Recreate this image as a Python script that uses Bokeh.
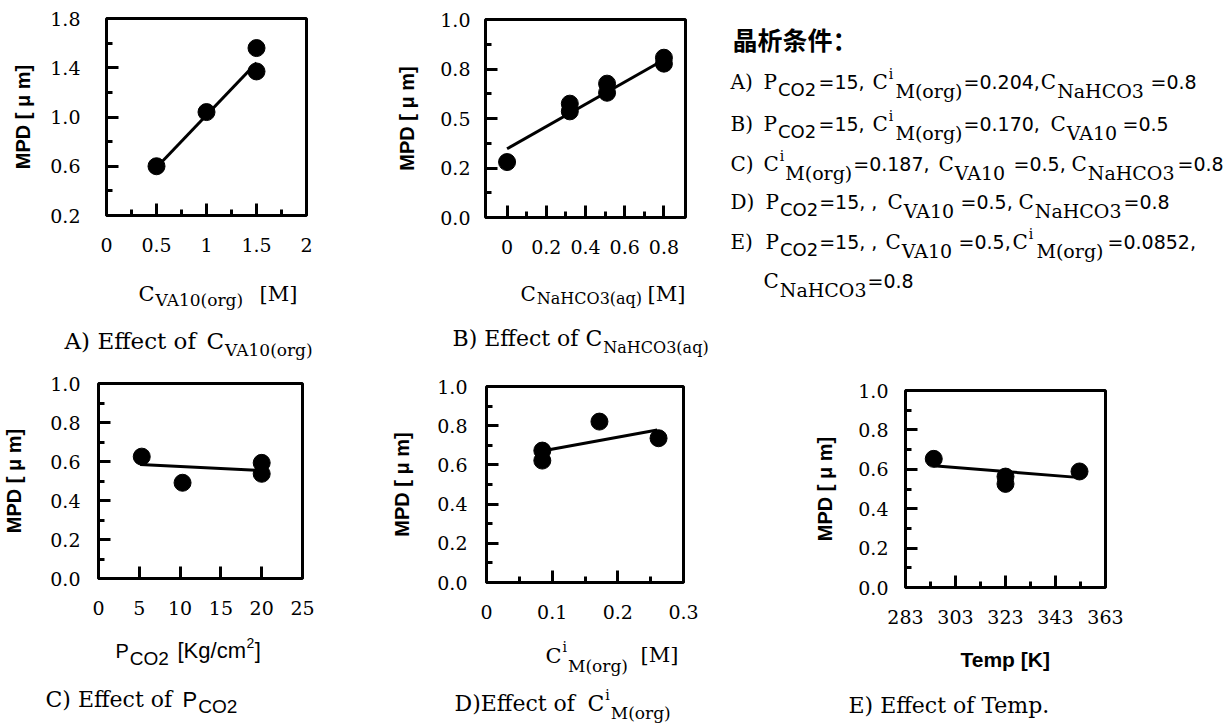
from bokeh.plotting import figure
from bokeh.layouts import row, column
from bokeh.models import Range1d, FixedTicker, Label
from bokeh.embed import file_html
from bokeh.resources import INLINE

# ---------------- data ----------------
a_x = [0.5, 1.0, 1.5, 1.5]
a_y = [0.60, 1.04, 1.37, 1.56]
a_fit_x = [0.5, 1.5]
a_fit_y = [0.59, 1.44]
a_xticks = [0, 0.5, 1, 1.5, 2]
a_xlabels = ["0", "0.5", "1", "1.5", "2"]
a_xminor = [0.25, 0.75, 1.25, 1.75]
a_yticks = [0.2, 0.6, 1.0, 1.4, 1.8]
a_ylabels = ["0.2", "0.6", "1.0", "1.4", "1.8"]
a_yminor = [0.4, 0.8, 1.2, 1.6]

b_x = [0.0, 0.32, 0.32, 0.51, 0.51, 0.8, 0.8]
b_y = [0.28, 0.575, 0.536, 0.676, 0.630, 0.807, 0.777]
b_fit_x = [0.0, 0.8]
b_fit_y = [0.347, 0.797]
b_xticks = [0, 0.2, 0.4, 0.6, 0.8]
b_xlabels = ["0", "0.2", "0.4", "0.6", "0.8"]
b_xminor = [0.1, 0.3, 0.5, 0.7]
b_yticks = [0, 0.25, 0.5, 0.75, 1.0]
b_ylabels = ["0.0", "0.2", "0.5", "0.8", "1.0"]
b_yminor = [0.125, 0.375, 0.625, 0.875]

c_x = [5.3, 10.3, 20, 20]
c_y = [0.625, 0.491, 0.593, 0.537]
c_fit_x = [5.1, 20]
c_fit_y = [0.585, 0.553]
c_xticks = [0, 5, 10, 15, 20, 25]
c_xlabels = ["0", "5", "10", "15", "20", "25"]
c_xminor = []

d_x = [0.085, 0.085, 0.172, 0.262]
d_y = [0.673, 0.622, 0.821, 0.736]
d_fit_x = [0.093, 0.26]
d_fit_y = [0.676, 0.778]
d_xticks = [0, 0.1, 0.2, 0.3]
d_xlabels = ["0", "0.1", "0.2", "0.3"]
d_xminor = [0.05, 0.15, 0.25]

e_x = [294.3, 323, 323, 352.6]
e_y = [0.653, 0.563, 0.526, 0.589]
e_fit_x = [294.2, 351.7]
e_fit_y = [0.618, 0.559]
e_xticks = [283, 303, 323, 343, 363]
e_xlabels = ["283", "303", "323", "343", "363"]
e_xminor = [293, 313, 333, 353]

u_yticks = [0, 0.2, 0.4, 0.6, 0.8, 1.0]
u_ylabels = ["0.0", "0.2", "0.4", "0.6", "0.8", "1.0"]
u_yminor = [0.1, 0.3, 0.5, 0.7, 0.9]

y_title = "MPD [ μ m]"

# ---------------- text helpers ----------------
SERIF = "DejaVu Serif"
SANS = "Liberation Sans"
DSANS = "DejaVu Sans"
CJK = "Noto Sans CJK SC"
BASE_FIX = -7   # baseline correction measured from the rendered page

W_SERIF = {' ': .318, '!': .402, '(': .390, ')': .390, ',': .318, '.': .318, '/': .337,
           ':': .337, '=': .838, '[': .390, ']': .390, 'A': .722, 'B': .735, 'C': .765,
           'D': .802, 'E': .730, 'H': .872, 'K': .770, 'M': 1.024, 'N': .837, 'O': .820,
           'P': .673, 'T': .704, 'V': .722, 'a': .596, 'c': .560, 'e': .592, 'f': .370,
           'g': .640, 'i': .320, 'm': .949, 'o': .602, 'p': .640, 'q': .640, 'r': .478,
           't': .402}
W_SANS = {' ': .278, ',': .278, '.': .278, '=': .584, '[': .278, ']': .278, '/': .278,
          '(': .333, ')': .333, 'C': .722, 'O': .778, 'K': .667, 'P': .667, 'T': .611,
          'g': .556, 'c': .5, 'm': .833, 'e': .556, 'p': .556}
W_DSANS = {' ': .318, ',': .318, '.': .318, '=': .838, 'C': .698, 'O': .787}
for _d in "0123456789":
    W_SERIF[_d] = .636
    W_SANS[_d] = .556
    W_DSANS[_d] = .636
TABLES = {SERIF: W_SERIF, SANS: W_SANS, DSANS: W_DSANS}


def text_w(s, font, size, style):
    tbl = TABLES.get(font, W_SANS)
    w = sum(tbl.get(ch, 0.6) for ch in s) * size
    if style == "bold":
        w *= 1.07
    return w


def add_runs(p, baseline, runs):
    end = -1e9
    for r in runs:
        txt, font, size, x = r[0], r[1], r[2], r[3]
        dy = r[4] if len(r) > 4 else 0
        style = r[5] if len(r) > 5 else "normal"
        x0 = max(x, end + 1) if x is not None else end + 0.5
        p.add_layout(Label(x=x0, y=baseline + dy + BASE_FIX, text=txt, text_font=font,
                           text_font_size=f"{size}px", text_font_style=style,
                           text_color="black", text_align="left",
                           text_baseline="alphabetic"))
        end = x0 + text_w(txt, font, size, style)


def text_canvas(x0, x1, y0, y1):
    # a figure whose data units are page pixels (y downwards)
    p = figure(width=x1 - x0, height=y1 - y0, x_range=Range1d(x0, x1),
               y_range=Range1d(y1, y0), x_axis_type=None, y_axis_type=None,
               min_border=0, frame_align=False,
               output_backend="svg", toolbar_location=None)
    p.grid.visible = False
    p.outline_line_color = None
    p.background_fill_color = "white"
    p.border_fill_color = "white"
    return p


def panel(w, h, bl, br, bt, bb, xr, yr,
          xticks, xlabels, xminor, yticks, ylabels, yminor,
          ystand, ylab_stand, xs, ys, fx, fy):
    p = figure(width=w, height=h, min_border_left=bl, min_border_right=br,
               min_border_top=bt, min_border_bottom=bb, frame_align=False,
               x_range=Range1d(*xr), y_range=Range1d(*yr),
               output_backend="svg", toolbar_location=None)
    p.grid.visible = False
    p.outline_line_color = "black"
    p.outline_line_width = 3
    p.outline_line_alpha = 1
    p.background_fill_color = "white"
    p.border_fill_color = "white"
    for ax in (p.xaxis[0], p.yaxis[0]):
        ax.axis_line_color = None
        ax.major_tick_in = 12
        ax.major_tick_out = 0
        ax.minor_tick_in = 6
        ax.minor_tick_out = 0
        ax.major_tick_line_width = 3
        ax.minor_tick_line_width = 3
        ax.major_tick_line_color = "black"
        ax.minor_tick_line_color = "black"
        ax.major_label_text_font = SERIF
        ax.major_label_text_font_size = "19px"
        ax.major_label_text_color = "black"
    p.xaxis.ticker = FixedTicker(ticks=xticks, minor_ticks=xminor)
    p.xaxis.major_label_overrides = {float(t): l for t, l in zip(xticks, xlabels)}
    p.xaxis.major_label_standoff = 22
    p.yaxis.ticker = FixedTicker(ticks=yticks, minor_ticks=yminor)
    p.yaxis.major_label_overrides = {float(t): l for t, l in zip(yticks, ylabels)}
    p.yaxis.major_label_standoff = ystand
    p.yaxis.axis_label = y_title
    p.yaxis.axis_label_text_font = SANS
    p.yaxis.axis_label_text_font_style = "bold"
    p.yaxis.axis_label_text_font_size = "20px"
    p.yaxis.axis_label_text_color = "black"
    p.yaxis.axis_label_standoff = ylab_stand
    p.line(fx, fy, line_width=3, line_color="black")
    p.scatter(xs, ys, size=17, fill_color="black", line_color="black")
    return p


# ---------------- panels ----------------
pA = panel(323, 268, 106, 17, 18, 53, (0, 2), (0.2, 1.8),
           a_xticks, a_xlabels, a_xminor, a_yticks, a_ylabels, a_yminor,
           26, 13, a_x, a_y, a_fit_x, a_fit_y)
pB = panel(393, 268, 162, 31, 19, 51, (-0.11, 0.91), (0, 1),
           b_xticks, b_xlabels, b_xminor, b_yticks, b_ylabels, b_yminor,
           15, 19, b_x, b_y, b_fit_x, b_fit_y)
pC = panel(385, 272, 98, 83, 21, 56, (0, 25), (0, 1),
           c_xticks, c_xlabels, c_xminor, u_yticks, u_ylabels, u_yminor,
           18, 22, c_x, c_y, c_fit_x, c_fit_y)
pD = panel(405, 272, 101, 107, 24, 52, (0, 0.3), (0, 1),
           d_xticks, d_xlabels, d_xminor, u_yticks, u_ylabels, u_yminor,
           19, 21, d_x, d_y, d_fit_x, d_fit_y)
pE = panel(436, 272, 115, 121, 28, 47, (283, 363), (0, 1),
           e_xticks, e_xlabels, e_xminor, u_yticks, u_ylabels, u_yminor,
           17, 19, e_x, e_y, e_fit_x, e_fit_y)

# ---------------- axis titles and captions (subscripted text) ----------------
pS1 = text_canvas(0, 716, 268, 362)
add_runs(pS1, 300, [("C", SERIF, 21, 138), ("VA10(org)", SERIF, 17, 150, 6),
                    ("[M]", SERIF, 21, 259)])
add_runs(pS1, 347, [("A) Effect of", SERIF, 23, 64), ("C", SERIF, 23, 206),
                    ("VA10(org)", SERIF, 17, 222, 9)])
add_runs(pS1, 300, [("C", SERIF, 20, 520), ("NaHCO3(aq)", SERIF, 16, 535, 5),
                    ("[M]", SERIF, 21, 647)])
add_runs(pS1, 345, [("B) Effect of", SERIF, 22, 452), ("C", SERIF, 22, 585),
                    ("NaHCO3(aq)", SERIF, 16, 602, 9)])

pS2 = text_canvas(0, 1226, 634, 723)
add_runs(pS2, 657, [("P", SANS, 20, 115), ("CO2", SANS, 19, 127, 8),
                    ("[Kg/cm", SANS, 22, 177), ("2", SANS, 14, None, -8),
                    ("]", SANS, 22, None)])
add_runs(pS2, 706, [("C) Effect of", SERIF, 22, 45), ("P", SANS, 22, 182),
                    ("CO2", SANS, 19, 197, 7)])
add_runs(pS2, 662, [("C", SERIF, 21, 545), ("i", SERIF, 14, 558, -9),
                    ("M(org)", SERIF, 17, 563, 10), ("[M]", SERIF, 21, 640, -1)])
add_runs(pS2, 710, [("D)Effect of", SERIF, 22, 454), ("C", SERIF, 22, 587),
                    ("i", SERIF, 14, 602, -9), ("M(org)", SERIF, 17, 607, 9)])
add_runs(pS2, 666, [("Temp [K]", SANS, 21, 960, 0, "bold")])
add_runs(pS2, 712, [("E) Effect of Temp.", SERIF, 22, 848)])

# ---------------- condition text panel ----------------
pT = text_canvas(716, 1226, 0, 362)
pT.add_layout(Label(x=732, y=38, text="晶析条件：", text_font=CJK, text_font_size="25px",
                    text_font_style="bold", text_color="black", text_align="left",
                    text_baseline="alphabetic"))

lines = [
    (88, [("A)", SERIF, 20, 730), ("P", SERIF, 20, 763), ("CO2", DSANS, 18, 777, 8),
          ("=15,", DSANS, 19, 818), ("C", SERIF, 20, 872), ("i", SERIF, 14, 887, -8),
          ("M(org)", SERIF, 19, 895, 9), ("=0.204,", DSANS, 19, 963), ("C", SERIF, 20, 1038),
          ("NaHCO3", SERIF, 19, 1055, 9), ("=0.8", DSANS, 19, 1150)]),
    (130, [("B)", SERIF, 20, 730), ("P", SERIF, 20, 763), ("CO2", DSANS, 18, 777, 8),
           ("=15,", DSANS, 19, 818), ("C", SERIF, 20, 872), ("i", SERIF, 14, 887, -8),
           ("M(org)", SERIF, 19, 895, 9), ("=0.170,", DSANS, 19, 963), ("C", SERIF, 20, 1050),
           ("VA10", SERIF, 19, 1062, 9), ("=0.5", DSANS, 19, 1122)]),
    (170, [("C)", SERIF, 20, 730), ("C", SERIF, 20, 763), ("i", SERIF, 14, 775, -8),
           ("M(org)", SERIF, 19, 782, 9), ("=0.187,", DSANS, 19, 848), ("C", SERIF, 20, 938),
           ("VA10", SERIF, 19, 953, 9), ("=0.5,", DSANS, 19, 1013), ("C", SERIF, 20, 1071),
           ("NaHCO3", SERIF, 19, 1086, 9), ("=0.8", DSANS, 19, 1177)]),
    (208, [("D)", SERIF, 20, 730), ("P", SERIF, 20, 765), ("CO2", DSANS, 18, 778, 8),
           ("=15, ,", DSANS, 19, 818), ("C", SERIF, 20, 887), ("VA10", SERIF, 19, 902, 9),
           ("=0.5,", DSANS, 19, 960), ("C", SERIF, 20, 1018), ("NaHCO3", SERIF, 19, 1033, 9),
           ("=0.8", DSANS, 19, 1123)]),
    (248, [("E)", SERIF, 20, 730), ("P", SERIF, 20, 765), ("CO2", DSANS, 18, 778, 8),
           ("=15, ,", DSANS, 19, 818), ("C", SERIF, 20, 885), ("VA10", SERIF, 19, 900, 9),
           ("=0.5,", DSANS, 19, 958), ("C", SERIF, 20, 1012), ("i", SERIF, 14, 1027, -8),
           ("M(org)", SERIF, 19, 1036, 9), ("=0.0852,", DSANS, 19, 1107)]),
    (287, [("C", SERIF, 20, 763), ("NaHCO3", SERIF, 19, 778, 9), ("=0.8", DSANS, 19, 867)]),
]
for base, runs in lines:
    add_runs(pT, base, runs)

top = row(column(row(pA, pB), pS1), pT)
bottom = column(row(pC, pD, pE), pS2)
layout = column(top, bottom)
open("out.html", "w").write(file_html(layout, INLINE))
